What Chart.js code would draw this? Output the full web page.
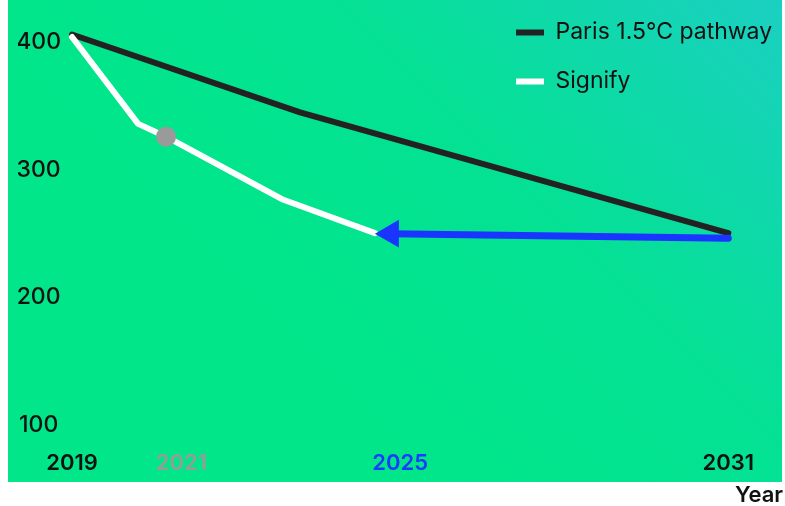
<!DOCTYPE html>
<html>
<head>
<meta charset="utf-8">
<script src="https://cdn.jsdelivr.net/npm/chart.js@4"></script>
<style>
  html, body { margin: 0; padding: 0; background: #ffffff; }
  #wrap { width: 785px; height: 506px; }
</style>
</head>
<body>
<div id="wrap"><canvas id="pathway-canvas"></canvas></div>
<script>
// values
var parisYears = [2019, 2023.17, 2031];
var parisValues = [406, 345, 250.5];

var signifyYears = [2019, 2020.21, 2020.72, 2022.84, 2024.54];
var signifyValues = [404, 336, 326, 277, 250.5];

// arrow from the 2031 target back to 2025
var arrowYears = [2031, 2024.83];
var arrowValues = [246.5, 250];

var xTicks = [2019, 2021, 2025, 2031];
var xTickColors = ['#111111', '#9a9a9a', '#1a3cff', '#111111'];
var yTicks = [100, 200, 300, 400];

function toPoints(xs, ys) {
    var pts = [];
    for (var i = 0; i < xs.length; i++) {
        pts.push({ x: xs[i], y: ys[i] });
    }
    return pts;
}

var fontFamily = 'Inter, "Noto Sans", sans-serif';

// gradient panel behind the plot
var panelPlugin = {
    id: 'panel',
    beforeDraw: function (chart) {
        var ctx = chart.ctx;
        var left = 8, right = chart.width - 3, bottom = 482;
        var g = ctx.createLinearGradient(380, 420, 800, 0);
        g.addColorStop(0, '#00e689');
        g.addColorStop(0.45, '#04e194');
        g.addColorStop(1, '#1ccfc4');
        ctx.save();
        ctx.fillStyle = g;
        ctx.fillRect(left, 0, right - left, bottom);
        ctx.restore();
    }
};

// move the chartArea legend to the top right
var legendSpot = {
    id: 'legendSpot',
    afterLayout: function (chart) {
        var lg = chart.legend;
        var w = lg.width, h = lg.height;
        lg.left = 490;
        lg.top = -5;
        lg.right = lg.left + w;
        lg.bottom = lg.top + h;
    }
};

function noEdgePadding(scale) {
    scale.paddingTop = 0;
    scale.paddingBottom = 0;
    scale.paddingLeft = 0;
    scale.paddingRight = 0;
}

var config = {
    type: 'line',
    data: {
        datasets: [{
            label: 'Paris 1.5°C pathway',
            data: toPoints(parisYears, parisValues),
            borderColor: '#222222',
            backgroundColor: '#222222',
            borderWidth: 6,
            borderCapStyle: 'round',
            borderJoinStyle: 'round',
            pointRadius: 0,
            order: 3,
            clip: false
        }, {
            label: 'Signify',
            data: toPoints(signifyYears, signifyValues),
            borderColor: '#ffffff',
            backgroundColor: '#ffffff',
            borderWidth: 6,
            borderCapStyle: 'round',
            borderJoinStyle: 'round',
            pointRadius: [0, 0, 10, 0, 0],
            pointBackgroundColor: '#9a9a9a',
            pointBorderWidth: [6, 0, 0, 0, 0],
            order: 2,
            clip: false
        }, {
            label: 'arrow',
            data: toPoints(arrowYears, arrowValues),
            borderColor: '#1a35ff',
            backgroundColor: '#1a35ff',
            borderWidth: 7,
            borderCapStyle: 'round',
            pointRadius: [0, 13],
            pointStyle: 'triangle',
            rotation: -90,
            pointBackgroundColor: '#1a35ff',
            pointBorderColor: '#1a35ff',
            pointBorderWidth: 3,
            order: 1,
            clip: false
        }]
    },
    options: {
        responsive: true,
        maintainAspectRatio: false,
        animation: false,
        layout: { autoPadding: false, padding: { left: 18, right: 2, top: 0, bottom: 0 } },
        plugins: {
            tooltip: { enabled: false },
            legend: {
                position: 'chartArea',
                align: 'start',
                labels: {
                    usePointStyle: true,
                    pointStyle: 'line',
                    pointStyleWidth: 28,
                    padding: 26,
                    color: '#111111',
                    font: { family: fontFamily, size: 23 },
                    filter: function (item) { return item.text !== 'arrow'; },
                    sort: function (a, b) { return a.datasetIndex - b.datasetIndex; }
                }
            }
        },
        scales: {
            x: {
                type: 'linear',
                min: 2019,
                max: 2032,
                grid: { display: false, drawTicks: false },
                border: { display: false },
                afterBuildTicks: function (scale) {
                    scale.ticks = xTicks.map(function (v) { return { value: v }; });
                },
                afterFit: function (scale) {
                    scale.height = 59;
                    noEdgePadding(scale);
                },
                ticks: {
                    autoSkip: false,
                    maxRotation: 0,
                    padding: 3,
                    color: function (c) { return xTickColors[c.index]; },
                    font: { family: fontFamily, size: 22, weight: '600' },
                    callback: function (v) { return String(v); }
                },
                title: {
                    display: true,
                    text: 'Year',
                    align: 'end',
                    color: '#111111',
                    padding: 0,
                    font: { family: fontFamily, size: 22, weight: '600', lineHeight: 1 }
                }
            },
            y: {
                min: 83,
                max: 433,
                grid: { display: false, drawTicks: false },
                border: { display: false },
                afterBuildTicks: function (scale) {
                    scale.ticks = yTicks.map(function (v) { return { value: v }; });
                },
                afterFit: function (scale) {
                    scale.width = 54;
                    noEdgePadding(scale);
                },
                ticks: {
                    padding: 11,
                    crossAlign: 'center',
                    color: '#111111',
                    font: { family: fontFamily, size: 23, weight: '500' }
                }
            }
        }
    },
    plugins: [panelPlugin, legendSpot]
};

var ctx = document.getElementById('pathway-canvas').getContext('2d');
window.pathwayChart = new Chart(ctx, config);
</script>
</body>
</html>
